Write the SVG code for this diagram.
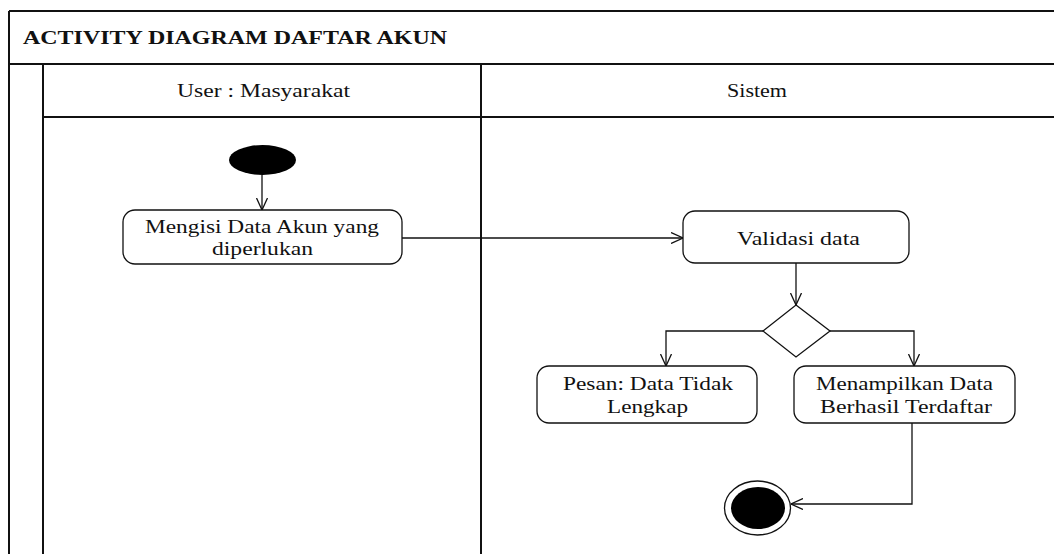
<svg xmlns="http://www.w3.org/2000/svg" width="1054" height="554" viewBox="0 0 1054 554">
  <style>
    .frame { stroke: #111; stroke-width: 2; fill: none; }
    .node { fill: #fff; stroke: #111; stroke-width: 1.3; }
    .edge { fill: none; stroke: #111; stroke-width: 1.3; }
    .lbl { font-family: "Liberation Serif", "Times New Roman", serif; font-size: 19px; fill: #111; }
    .title { font-family: "Liberation Serif", "Times New Roman", serif; font-size: 18px; font-weight: bold; fill: #111; }
  </style>
  <defs>
    <marker id="open" viewBox="0 0 12 12" refX="12" refY="6" markerWidth="12" markerHeight="12" markerUnits="userSpaceOnUse" orient="auto">
      <path d="M0,0.5 L12,6 L0,11.5" fill="none" stroke="#111" stroke-width="1.3"/>
    </marker>
  </defs>
  <rect width="1054" height="554" fill="#fff"/>

  <!-- swimlane frame -->
  <g id="frame">
    <path class="frame" d="M9,11 H1056 M9,64 H1056 M43,117 H1056 M9,11 V556 M43,64 V556 M481,64 V556"/>
    <text class="title" x="23" y="44" textLength="424" lengthAdjust="spacingAndGlyphs">ACTIVITY DIAGRAM DAFTAR AKUN</text>
    <text class="lbl" x="177" y="97" textLength="173" lengthAdjust="spacingAndGlyphs">User : Masyarakat</text>
    <text class="lbl" x="727" y="97" textLength="60" lengthAdjust="spacingAndGlyphs">Sistem</text>
  </g>

  <!-- connectors -->
  <g id="connectors">
    <path class="edge" d="M262,175 V210" marker-end="url(#open)"/>
    <path class="edge" d="M402,238 H683" marker-end="url(#open)"/>
    <path class="edge" d="M796,263 V305" marker-end="url(#open)"/>
    <path class="edge" d="M763,331 H666 V366" marker-end="url(#open)"/>
    <path class="edge" d="M830,331 H914 V366" marker-end="url(#open)"/>
    <path class="edge" d="M912,423 V504 H791" marker-end="url(#open)"/>
  </g>

  <!-- start -->
  <g id="start">
    <ellipse cx="262.5" cy="160" rx="33.5" ry="15" fill="#000"/>
  </g>

  <g id="isi-data">
    <rect class="node" x="123" y="210" width="279" height="54" rx="12"/>
    <text class="lbl" x="145" y="233" textLength="234" lengthAdjust="spacingAndGlyphs">Mengisi Data Akun yang</text>
    <text class="lbl" x="212" y="255" textLength="101" lengthAdjust="spacingAndGlyphs">diperlukan</text>
  </g>

  <g id="validasi">
    <rect class="node" x="683" y="211" width="226" height="52" rx="12"/>
    <text class="lbl" x="737" y="245" textLength="123" lengthAdjust="spacingAndGlyphs">Validasi data</text>
  </g>

  <g id="keputusan">
    <polygon class="node" points="796,305 830,331 796,357 763,331"/>
  </g>

  <g id="pesan-gagal">
    <rect class="node" x="537" y="366" width="220" height="57" rx="12"/>
    <text class="lbl" x="563" y="390" textLength="170" lengthAdjust="spacingAndGlyphs">Pesan: Data Tidak</text>
    <text class="lbl" x="607" y="413" textLength="81" lengthAdjust="spacingAndGlyphs">Lengkap</text>
  </g>

  <g id="tampil-berhasil">
    <rect class="node" x="794" y="366" width="221" height="57" rx="12"/>
    <text class="lbl" x="816" y="390" textLength="177" lengthAdjust="spacingAndGlyphs">Menampilkan Data</text>
    <text class="lbl" x="820" y="413" textLength="172" lengthAdjust="spacingAndGlyphs">Berhasil Terdaftar</text>
  </g>

  <!-- end -->
  <g id="end">
    <ellipse cx="757.5" cy="508" rx="33" ry="27" fill="#fff" stroke="#111" stroke-width="1.3"/>
    <ellipse cx="758" cy="508" rx="27" ry="21" fill="#000"/>
  </g>
</svg>
